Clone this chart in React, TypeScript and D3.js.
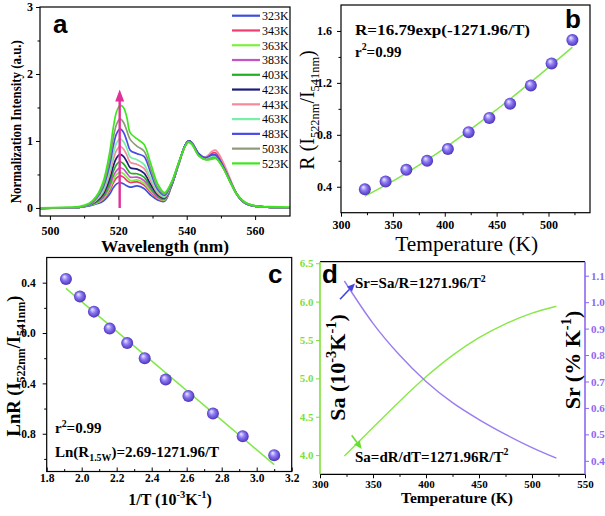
import React, { useEffect, useRef } from 'react';
import * as d3 from 'd3';

const SERIF = '"Liberation Serif", "Times New Roman", serif';
const SANS = '"Liberation Sans", Arial, sans-serif';

// ---------- Panel a: spectra ----------
const wavelengths = [497, 503.5, 508.5, 511.5, 513.5, 515.5, 517.5, 518.5, 519.5, 520.5, 521.5, 522.5, 523.5, 525.5, 527.5, 529.5, 531.5, 533.5, 535.5, 537.5, 539.5, 540.5, 541.5, 543.5, 545.5, 547.5, 548.5, 550.5, 552.5, 554.5, 556.5, 558.5, 561.5, 564.5, 571];
const tempLabels = ['323K', '343K', '363K', '383K', '403K', '423K', '443K', '463K', '483K', '503K', '523K'];
const s323 = [-0.01, 0, 0.01, 0.03, 0.06, 0.10, 0.21, 0.30, 0.36, 0.38, 0.36, 0.33, 0.31, 0.33, 0.29, 0.19, 0.12, 0.10, 0.32, 0.63, 0.93, 1.0, 0.98, 0.81, 0.74, 0.78, 0.78, 0.64, 0.43, 0.22, 0.09, 0.04, 0.02, 0.01, 0];
const s343 = [-0.01, 0, 0.01, 0.04, 0.07, 0.12, 0.26, 0.37, 0.45, 0.48, 0.46, 0.41, 0.38, 0.39, 0.34, 0.23, 0.14, 0.11, 0.32, 0.63, 0.92, 1.0, 0.97, 0.80, 0.75, 0.82, 0.82, 0.66, 0.43, 0.22, 0.09, 0.04, 0.02, 0.01, 0];
const s363 = [0, 0, 0.01, 0.04, 0.07, 0.13, 0.29, 0.41, 0.50, 0.53, 0.51, 0.46, 0.41, 0.42, 0.37, 0.25, 0.15, 0.12, 0.33, 0.63, 0.92, 0.99, 0.97, 0.79, 0.73, 0.77, 0.77, 0.62, 0.41, 0.21, 0.09, 0.05, 0.02, 0.01, 0];
const s383 = [-0.01, 0, 0.01, 0.04, 0.08, 0.15, 0.33, 0.47, 0.56, 0.60, 0.58, 0.52, 0.46, 0.46, 0.41, 0.28, 0.16, 0.13, 0.33, 0.63, 0.93, 1.0, 0.97, 0.80, 0.74, 0.79, 0.79, 0.63, 0.42, 0.22, 0.09, 0.04, 0.02, 0.01, 0];
const s403 = [0, 0, 0.01, 0.04, 0.09, 0.17, 0.38, 0.54, 0.65, 0.69, 0.66, 0.59, 0.52, 0.51, 0.46, 0.31, 0.18, 0.14, 0.33, 0.63, 0.93, 1.0, 0.97, 0.79, 0.73, 0.76, 0.76, 0.62, 0.42, 0.22, 0.10, 0.05, 0.02, 0.01, 0];
const s423 = [0, 0, 0.01, 0.05, 0.10, 0.20, 0.44, 0.62, 0.75, 0.80, 0.77, 0.69, 0.60, 0.58, 0.52, 0.35, 0.20, 0.15, 0.34, 0.64, 0.93, 1.0, 0.97, 0.80, 0.74, 0.78, 0.78, 0.63, 0.42, 0.22, 0.09, 0.04, 0.02, 0.01, 0];
const s443 = [0, 0, 0.01, 0.05, 0.11, 0.23, 0.51, 0.72, 0.86, 0.92, 0.88, 0.79, 0.68, 0.65, 0.59, 0.40, 0.22, 0.16, 0.35, 0.64, 0.92, 0.99, 0.97, 0.80, 0.76, 0.85, 0.86, 0.70, 0.46, 0.23, 0.09, 0.04, 0.02, 0.01, 0];
const s463 = [0, 0, 0.01, 0.05, 0.12, 0.26, 0.57, 0.80, 0.97, 1.03, 0.99, 0.89, 0.76, 0.72, 0.65, 0.44, 0.25, 0.17, 0.35, 0.64, 0.92, 0.99, 0.96, 0.79, 0.73, 0.77, 0.77, 0.62, 0.41, 0.21, 0.09, 0.04, 0.02, 0.01, 0];
const s483 = [0, 0, 0.01, 0.05, 0.14, 0.30, 0.65, 0.92, 1.11, 1.18, 1.13, 1.00, 0.86, 0.81, 0.77, 0.52, 0.28, 0.19, 0.36, 0.65, 0.93, 1.0, 0.97, 0.81, 0.75, 0.80, 0.79, 0.64, 0.43, 0.22, 0.09, 0.04, 0.02, 0.01, 0];
const s503 = [0, 0, 0.01, 0.06, 0.15, 0.33, 0.73, 1.04, 1.25, 1.33, 1.28, 1.15, 1.02, 0.92, 0.85, 0.58, 0.31, 0.21, 0.37, 0.65, 0.92, 0.99, 0.96, 0.78, 0.72, 0.75, 0.75, 0.61, 0.41, 0.21, 0.09, 0.05, 0.02, 0.01, 0];
const s523 = [0, 0.01, 0.02, 0.07, 0.17, 0.38, 0.84, 1.19, 1.44, 1.53, 1.50, 1.35, 1.12, 1.03, 0.95, 0.66, 0.36, 0.23, 0.38, 0.66, 0.92, 0.98, 0.95, 0.78, 0.72, 0.73, 0.74, 0.61, 0.41, 0.22, 0.11, 0.05, 0.02, 0.02, 0.01];
const spectra = [s323, s343, s363, s383, s403, s423, s443, s463, s483, s503, s523];
const arrowA = { wl: 520.4, from: 0, to: 1.77 };

// ---------- Panel b ----------
const tempsK = [323, 343, 363, 383, 403, 423, 443, 463, 483, 503, 523];
const ratioR = [0.38, 0.44, 0.53, 0.60, 0.69, 0.82, 0.93, 1.04, 1.18, 1.35, 1.53];
const fitR = [0.327, 0.412, 0.505, 0.606, 0.715, 0.830, 0.951, 1.076, 1.206, 1.339, 1.475];

// ---------- Panel c ----------
const invT = [1.91, 1.99, 2.07, 2.16, 2.26, 2.36, 2.48, 2.61, 2.75, 2.92, 3.10];
const lnR = [0.43, 0.29, 0.17, 0.035, -0.08, -0.20, -0.37, -0.50, -0.64, -0.82, -0.97];
const fitLnX = [1.91, 3.10];
const fitLnY = [0.355, -1.045];

// ---------- Panel d ----------
const sensT = [323, 350, 375, 400, 425, 450, 475, 500, 523];
const saVals = [3.99, 4.36, 4.70, 5.02, 5.30, 5.53, 5.71, 5.85, 5.94];
const srVals = [1.08, 0.92, 0.80, 0.70, 0.62, 0.556, 0.50, 0.45, 0.41];

const seriesColors = ['#3a50d8', '#f03c6e', '#7cf040', '#c653c6', '#20b020', '#1c1c7a', '#f58a9a', '#78f0a8', '#4a4ae6', '#8c9a78', '#3ee61e'];

type Part = { t: string; s?: 'sub' | 'sup' };

function rich(parent: any, parts: Part[], x: number, y: number, size: number, opts: any = {}) {
  const t = parent.append('text')
    .attr('font-family', opts.family || SERIF)
    .attr('font-weight', opts.weight || 'bold')
    .attr('fill', opts.fill || '#000')
    .attr('font-size', size)
    .attr('text-anchor', opts.anchor || 'start');
  if (opts.rotate) {
    t.attr('transform', `translate(${x},${y}) rotate(${opts.rotate})`).attr('x', 0).attr('y', 0);
  } else {
    t.attr('x', x).attr('y', y);
  }
  const subScale = opts.subScale || 0.66;
  let shift = 0;
  parts.forEach((p) => {
    const target = p.s === 'sub' ? size * 0.27 : p.s === 'sup' ? -size * 0.42 : 0;
    t.append('tspan').text(p.t).attr('dy', target - shift).attr('font-size', p.s ? size * subScale : size);
    shift = target;
  });
  if (opts.length) t.attr('textLength', opts.length).attr('lengthAdjust', 'spacingAndGlyphs');
  return t;
}

function styleAxis(g: any, color: string, fill: string, size: number) {
  g.select('.domain').remove();
  g.selectAll('.tick line').attr('stroke', color).attr('stroke-width', 1);
  g.selectAll('.tick text')
    .attr('font-family', SERIF)
    .attr('font-size', size)
    .attr('font-weight', 'bold')
    .attr('fill', fill);
}

export default function App() {
  const ref = useRef<SVGSVGElement>(null);

  useEffect(() => {
    const svg = d3.select(ref.current);
    svg.selectAll('*').remove();
    const defs = svg.append('defs');
    const grad = defs.append('radialGradient').attr('id', 'sphere').attr('cx', '50%').attr('cy', '50%').attr('r', '55%').attr('fx', '35%').attr('fy', '30%');
    grad.append('stop').attr('offset', '0%').attr('stop-color', '#f0ecff');
    grad.append('stop').attr('offset', '45%').attr('stop-color', '#8a78f2');
    grad.append('stop').attr('offset', '100%').attr('stop-color', '#4528b5');

    // ================= Panel a =================
    const ax = d3.scaleLinear().domain([497.1, 570.2]).range([40, 290]);
    const ay = d3.scaleLinear().domain([-0.12, 3]).range([216, 7]);
    const ga = svg.append('g');
    defs.append('clipPath').attr('id', 'clipA').append('rect').attr('x', 40).attr('y', 7).attr('width', 250).attr('height', 209);

    const gaxB = ga.append('g').attr('transform', 'translate(0,216)')
      .call(d3.axisBottom(ax).tickValues([500, 520, 540, 560]).tickSize(4).tickFormat(d3.format('d')));
    styleAxis(gaxB, '#000', '#000', 12);
    gaxB.selectAll('.tick text').attr('y', 18.5).attr('dy', 0);
    const gaxBm = ga.append('g').attr('transform', 'translate(0,216)')
      .call(d3.axisBottom(ax).tickValues([510, 530, 550]).tickSize(2.5).tickFormat(() => ''));
    styleAxis(gaxBm, '#000', '#000', 12);
    const gaxL = ga.append('g').attr('transform', 'translate(40,0)')
      .call(d3.axisLeft(ay).tickValues([0, 1, 2, 3]).tickSize(4).tickPadding(3).tickFormat(d3.format('d')));
    styleAxis(gaxL, '#000', '#000', 12);
    const gaxLm = ga.append('g').attr('transform', 'translate(40,0)')
      .call(d3.axisLeft(ay).tickValues([0.5, 1.5, 2.5]).tickSize(2.5).tickFormat(() => ''));
    styleAxis(gaxLm, '#000', '#000', 12);

    const lineA = d3.line<number>().x((_, i) => ax(wavelengths[i])).y((d) => ay(d)).curve(d3.curveCatmullRom.alpha(0.5));
    const plotA = ga.append('g').attr('clip-path', 'url(#clipA)');
    spectra.forEach((s, i) => {
      plotA.append('path').attr('d', lineA(s)).attr('fill', 'none').attr('stroke', seriesColors[i]).attr('stroke-width', 1.7);
    });
    // arrow
    const arX = ax(arrowA.wl);
    ga.append('line').attr('x1', arX).attr('x2', arX).attr('y1', ay(arrowA.from)).attr('y2', ay(arrowA.to) + 8)
      .attr('stroke', '#e0309a').attr('stroke-width', 2.4);
    ga.append('path').attr('d', `M${arX},${ay(arrowA.to)} L${arX - 4.5},${ay(arrowA.to) + 12} L${arX + 4.5},${ay(arrowA.to) + 12} Z`).attr('fill', '#e0309a');

    ga.append('rect').attr('x', 40).attr('y', 7).attr('width', 250).attr('height', 209).attr('fill', 'none').attr('stroke', '#000').attr('stroke-width', 1.2);

    // legend
    tempLabels.forEach((lab, i) => {
      const y = 15.7 + i * 14.77;
      ga.append('line').attr('x1', 232).attr('x2', 260).attr('y1', y).attr('y2', y).attr('stroke', seriesColors[i]).attr('stroke-width', 2.2);
      ga.append('text').attr('x', 262).attr('y', y + 4.3).text(lab).attr('font-family', SERIF).attr('font-size', 12).attr('fill', '#000');
    });
    ga.append('text').attr('x', 53).attr('y', 33).text('a').attr('font-family', SANS).attr('font-weight', 'bold').attr('font-size', 26);
    rich(ga, [{ t: 'Wavelength (nm)' }], 165, 251.7, 17, { anchor: 'middle', length: 128 });
    rich(ga, [{ t: 'Normalization Intensity (a.u.)' }], 21, 121.7, 14.5, { anchor: 'middle', rotate: -90, length: 163 });

    // ================= Panel b =================
    const bx = d3.scaleLinear().domain([300, 540]).range([341, 590]);
    const by = d3.scaleLinear().domain([0.2, 1.8]).range([212.7, 5]);
    const gb = svg.append('g');
    const gbB = gb.append('g').attr('transform', 'translate(0,212.7)')
      .call(d3.axisBottom(bx).tickValues([300, 350, 400, 450, 500]).tickSize(4).tickFormat(d3.format('d')));
    styleAxis(gbB, '#000', '#000', 12);
    gbB.selectAll('.tick text').attr('y', 16.3).attr('dy', 0);
    const gbBm = gb.append('g').attr('transform', 'translate(0,212.7)')
      .call(d3.axisBottom(bx).tickValues([325, 375, 425, 475, 525]).tickSize(2.5).tickFormat(() => ''));
    styleAxis(gbBm, '#000', '#000', 12);
    const gbL = gb.append('g').attr('transform', 'translate(341,0)')
      .call(d3.axisLeft(by).tickValues([0.4, 0.8, 1.2, 1.6]).tickSize(4).tickPadding(5).tickFormat(d3.format('.1f')));
    styleAxis(gbL, '#000', '#000', 12);
    const gbLm = gb.append('g').attr('transform', 'translate(341,0)')
      .call(d3.axisLeft(by).tickValues([0.6, 1.0, 1.4]).tickSize(2.5).tickFormat(() => ''));
    styleAxis(gbLm, '#000', '#000', 12);
    gb.append('rect').attr('x', 341).attr('y', 5).attr('width', 249).attr('height', 207.7).attr('fill', 'none').attr('stroke', '#000').attr('stroke-width', 1.2);

    const lineB = d3.line<number>().x((_, i) => bx(tempsK[i])).y((d) => by(d)).curve(d3.curveMonotoneX);
    gb.append('path').attr('d', lineB(fitR)).attr('fill', 'none').attr('stroke', '#80e848').attr('stroke-width', 1.5);
    gb.selectAll('circle.pb').data(ratioR).enter().append('circle')
      .attr('cx', (_, i) => bx(tempsK[i])).attr('cy', (d) => by(d)).attr('r', 6).attr('fill', 'url(#sphere)');

    rich(gb, [{ t: 'R=16.79exp(-1271.96/T)' }], 355, 35, 15, { length: 175 });
    rich(gb, [{ t: 'r' }, { t: '2', s: 'sup' }, { t: '=0.99' }], 355, 56.7, 15);
    gb.append('text').attr('x', 565).attr('y', 28).text('b').attr('font-family', SANS).attr('font-weight', 'bold').attr('font-size', 26);
    rich(gb, [{ t: 'Temperature (K)' }], 466.7, 251, 20, { anchor: 'middle', weight: 'normal', length: 143 });
    rich(gb, [{ t: 'R (I' }, { t: '522nm', s: 'sub' }, { t: '/I' }, { t: '541nm', s: 'sub' }, { t: ')' }], 314, 110, 20, { anchor: 'middle', rotate: -90, weight: 'normal', subScale: 0.62 });

    // ================= Panel c =================
    const cx = d3.scaleLinear().domain([1.8, 3.2]).range([46.7, 291.7]);
    const cy = d3.scaleLinear().domain([-1.1, 0.6]).range([471.5, 257.5]);
    const gc = svg.append('g');
    const gcB = gc.append('g').attr('transform', 'translate(0,471.5)')
      .call(d3.axisBottom(cx).tickValues(d3.range(1.8, 3.21, 0.2)).tickSize(-4).tickFormat(d3.format('.1f')));
    styleAxis(gcB, '#000', '#000', 11.5);
    gcB.selectAll('.tick text').attr('y', 10.5).attr('dy', 0);
    const gcBm = gc.append('g').attr('transform', 'translate(0,471.5)')
      .call(d3.axisBottom(cx).tickValues(d3.range(1.9, 3.15, 0.2)).tickSize(-2.5).tickFormat(() => ''));
    styleAxis(gcBm, '#000', '#000', 12);
    const gcL = gc.append('g').attr('transform', 'translate(46.7,0)')
      .call(d3.axisLeft(cy).tickValues([-0.8, -0.4, 0.0, 0.4]).tickSize(4).tickPadding(7).tickFormat(d3.format('.1f')));
    styleAxis(gcL, '#000', '#000', 11.5);
    const gcLm = gc.append('g').attr('transform', 'translate(46.7,0)')
      .call(d3.axisLeft(cy).tickValues([-1.0, -0.6, -0.2, 0.2]).tickSize(2.5).tickFormat(() => ''));
    styleAxis(gcLm, '#000', '#000', 12);
    gc.append('rect').attr('x', 46.7).attr('y', 257.5).attr('width', 245).attr('height', 214).attr('fill', 'none').attr('stroke', '#000').attr('stroke-width', 1.2);

    const lineC = d3.line<number>().x((_, i) => cx(fitLnX[i])).y((d) => cy(d));
    gc.append('path').attr('d', lineC(fitLnY)).attr('fill', 'none').attr('stroke', '#80e848').attr('stroke-width', 1.5);
    gc.selectAll('circle.pc').data(lnR).enter().append('circle')
      .attr('cx', (_, i) => cx(invT[i])).attr('cy', (d) => cy(d)).attr('r', 6).attr('fill', 'url(#sphere)');

    rich(gc, [{ t: 'r' }, { t: '2', s: 'sup' }, { t: '=0.99' }], 55, 433, 15);
    rich(gc, [{ t: 'Ln(R' }, { t: '1.5W', s: 'sub' }, { t: ')=2.69-1271.96/T' }], 55, 456.7, 15);
    gc.append('text').attr('x', 268).attr('y', 283).text('c').attr('font-family', SANS).attr('font-weight', 'bold').attr('font-size', 26);
    rich(gc, [{ t: '1/T (10' }, { t: '-3', s: 'sup' }, { t: 'K' }, { t: '-1', s: 'sup' }, { t: ')' }], 170, 505, 16, { anchor: 'middle' });
    rich(gc, [{ t: 'LnR (I' }, { t: '522nm', s: 'sub' }, { t: '/I' }, { t: '541nm', s: 'sub' }, { t: ')' }], 20, 366, 18.5, { anchor: 'middle', rotate: -90, subScale: 0.64 });

    // ================= Panel d =================
    const dx = d3.scaleLinear().domain([300, 550]).range([320, 585]);
    const dyL = d3.scaleLinear().domain([3.75, 6.52]).range([474.3, 261.7]);
    const dyR = d3.scaleLinear().domain([0.349, 1.153]).range([474.3, 261.7]);
    defs.append('clipPath').attr('id', 'clipD').append('rect').attr('x', 300).attr('y', 250).attr('width', 305).attr('height', 266);
    const gd = svg.append('g').attr('clip-path', 'url(#clipD)');
    const green = '#7ee03a';
    const purple = '#8a68f2';
    const gdB = gd.append('g').attr('transform', 'translate(0,474.3)')
      .call(d3.axisBottom(dx).tickValues([300, 350, 400, 450, 500, 550]).tickSize(4).tickFormat(d3.format('d')));
    styleAxis(gdB, '#000', '#000', 11);
    gdB.selectAll('.tick text').attr('y', 14).attr('dy', 0);
    const gdBm = gd.append('g').attr('transform', 'translate(0,474.3)')
      .call(d3.axisBottom(dx).tickValues([325, 375, 425, 475, 525]).tickSize(2.5).tickFormat(() => ''));
    styleAxis(gdBm, '#000', '#000', 11);
    const gdL = gd.append('g').attr('transform', 'translate(320,0)')
      .call(d3.axisLeft(dyL).tickValues([4.0, 4.5, 5.0, 5.5, 6.0, 6.5]).tickSize(4).tickPadding(2.5).tickFormat(d3.format('.1f')));
    styleAxis(gdL, green, green, 11);
    const gdR = gd.append('g').attr('transform', 'translate(585,0)')
      .call(d3.axisRight(dyR).tickValues([0.4, 0.5, 0.6, 0.7, 0.8, 0.9, 1.0, 1.1]).tickSize(4).tickPadding(2).tickFormat(d3.format('.1f')));
    styleAxis(gdR, purple, purple, 11);
    // frame
    gd.append('line').attr('x1', 320).attr('x2', 585).attr('y1', 261.7).attr('y2', 261.7).attr('stroke', '#000').attr('stroke-width', 1.2);
    gd.append('line').attr('x1', 320).attr('x2', 585).attr('y1', 474.3).attr('y2', 474.3).attr('stroke', '#000').attr('stroke-width', 1.2);
    gd.append('line').attr('x1', 320).attr('x2', 320).attr('y1', 261.7).attr('y2', 474.3).attr('stroke', green).attr('stroke-width', 1.6);
    gd.append('line').attr('x1', 585).attr('x2', 585).attr('y1', 261.7).attr('y2', 474.3).attr('stroke', purple).attr('stroke-width', 1.6);

    const lineSa = d3.line<number>().x((_, i) => dx(sensT[i])).y((d) => dyL(d)).curve(d3.curveMonotoneX);
    const lineSr = d3.line<number>().x((_, i) => dx(sensT[i])).y((d) => dyR(d)).curve(d3.curveMonotoneX);
    gd.append('path').attr('d', lineSa(saVals)).attr('fill', 'none').attr('stroke', '#88e848').attr('stroke-width', 1.4);
    gd.append('path').attr('d', lineSr(srVals)).attr('fill', 'none').attr('stroke', '#9a7cf0').attr('stroke-width', 1.4);

    // annotation arrows (data coordinates)
    const arrow = (x1: number, y1: number, x2: number, y2: number, col: string) => {
      const ang = Math.atan2(y2 - y1, x2 - x1);
      const L = 8, W = 3.5;
      const bxp = x2 - L * Math.cos(ang), byp = y2 - L * Math.sin(ang);
      gd.append('line').attr('x1', x1).attr('y1', y1).attr('x2', bxp).attr('y2', byp).attr('stroke', col).attr('stroke-width', 1.6);
      gd.append('path').attr('d', `M${x2},${y2} L${bxp - W * Math.sin(ang)},${byp + W * Math.cos(ang)} L${bxp + W * Math.sin(ang)},${byp - W * Math.cos(ang)} Z`).attr('fill', col);
    };
    arrow(dx(318.9), dyR(1.011), dx(333), dyR(1.071), '#4444e0');
    arrow(dx(329.9), dyL(4.26), dx(339.3), dyL(4.08), '#66e030');

    rich(gd, [{ t: 'Sr=Sa/R=1271.96/T' }, { t: '2', s: 'sup' }], 355, 288.3, 15);
    rich(gd, [{ t: 'Sa=dR/dT=1271.96R/T' }, { t: '2', s: 'sup' }], 355, 461.7, 15);
    gd.append('text').attr('x', 322).attr('y', 283).text('d').attr('font-family', SANS).attr('font-weight', 'bold').attr('font-size', 26);
    rich(gd, [{ t: 'Temperature (K)' }], 457, 503, 15, { anchor: 'middle', length: 112 });
    rich(gd, [{ t: 'Sa (10' }, { t: '-3', s: 'sup' }, { t: 'K' }, { t: '-1', s: 'sup' }, { t: ')' }], 345, 367.5, 22, { anchor: 'middle', rotate: -90 });
    rich(gd, [{ t: 'Sr (% K' }, { t: '-1', s: 'sup' }, { t: ')' }], 580, 360, 22, { anchor: 'middle', rotate: -90 });
  }, []);

  return (
    <svg ref={ref} width={605} height={516} style={{ position: 'absolute', left: 0, top: 0, background: '#fff' }} />
  );
}
